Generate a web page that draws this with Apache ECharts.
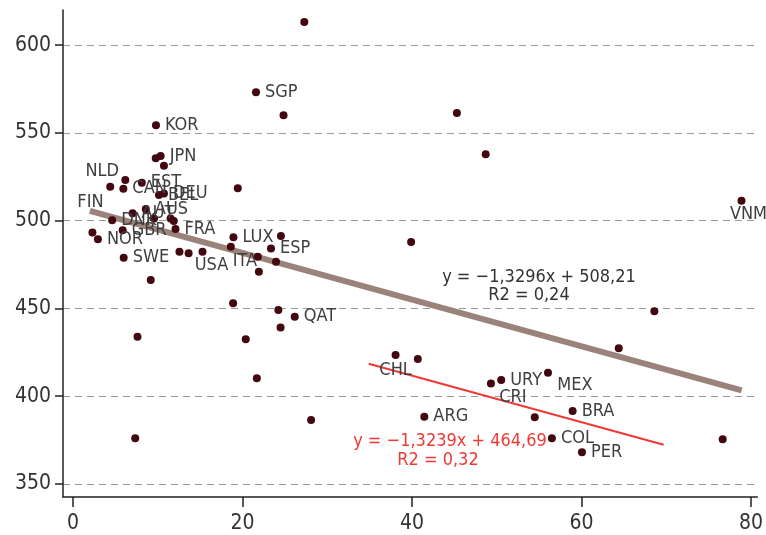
<!DOCTYPE html>
<html>
<head>
<meta charset="utf-8">
<script src="https://cdn.jsdelivr.net/npm/echarts@6/dist/echarts.min.js"></script>
<style>
html,body{margin:0;padding:0;background:#fff;}
#c{width:766px;height:535px;}
</style>
</head>
<body>
<div id="c"></div>
<script>
// ---- data ----
const names = ["", "SGP", "", "", "", "KOR", "", "JPN", "", "NLD",
  "", "CAN", "EST", "BEL", "DEU", "", "DNK", "FIN", "NOR", "GBR",
  "AUT", "AUS", "", "", "FRA", "SWE", "", "", "USA", "LUX",
  "ITA", "", "ESP", "", "", "", "", "", "", "",
  "", "", "", "", "QAT", "", "", "CHL", "", "CRI",
  "URY", "MEX", "ARG", "", "BRA", "COL", "PER", "", "", "",
  "VNM", ""];
const xVals = [27.3, 21.6, 24.85, 45.3, 48.7, 9.8, 9.77, 10.35, 10.74, 4.4,
  6.18, 5.95, 8.13, 10.15, 10.74, 19.45, 4.63, 2.3, 2.95, 5.87,
  7.04, 8.6, 9.57, 11.52, 12.1, 5.99, 12.57, 13.65, 15.29, 18.94,
  18.63, 24.54, 23.37, 21.82, 23.96, 21.94, 9.18, 7.62, 7.35, 18.9,
  20.39, 21.7, 24.24, 24.5, 26.17, 28.1, 39.9, 38.07, 40.69, 49.32,
  50.53, 56.05, 41.46, 54.49, 58.96, 56.51, 60.06, 76.66, 64.4, 68.6,
  78.88, 11.9];
const yVals = [613.1, 573.2, 560.1, 561.3, 537.9, 554.4, 535.5, 536.8, 531.3, 519.3,
  523.1, 518.2, 521.6, 514.6, 515.5, 518.4, 500.3, 493.3, 489.4, 494.6,
  504.2, 506.6, 501.3, 501.3, 495.2, 478.9, 482.3, 481.4, 482.3, 490.5,
  485.1, 491.2, 484.2, 479.4, 476.6, 470.9, 466.2, 433.9, 376.0, 452.9,
  432.4, 410.2, 449.1, 439.2, 445.3, 386.4, 487.8, 423.5, 421.2, 407.3,
  409.2, 413.4, 388.3, 388.0, 391.6, 376.0, 368.1, 375.5, 427.4, 448.4,
  511.3, 499.8];

const trendAllX = [2.0, 78.9];
const trendAllY = [505.55, 403.3];
const trendLatX = [34.9, 69.7];
const trendLatY = [418.5, 372.4];

const xTicks = [0, 20, 40, 60, 80];
const yTicks = [350, 400, 450, 500, 550, 600];

const eqAll = ["y = \u22121,3296x + 508,21", "R2 = 0,24"];
const eqLat = ["y = \u22121,3239x + 464,69", "R2 = 0,32"];

// ---- styling ----
const FONT = "'DejaVu Sans Condensed', 'Liberation Sans Narrow', sans-serif";
const labelPlace = {
  NLD: {position: 'top', offset: [-8, 3]},
  FIN: {position: 'top', offset: [-2, -12]},
  USA: {position: 'bottom', offset: [9, -4]},
  ITA: {position: 'bottom', offset: [14, -4]},
  CHL: {position: 'bottom', offset: [0, -3]},
  CRI: {position: 'bottom', offset: [22, -4]},
  MEX: {position: 'bottom', offset: [27, -5]},
  VNM: {position: 'bottom', offset: [7, -5]}
};

const pts = xVals.map((x, i) => {
  const n = names[i];
  const o = {value: [x, yVals[i]], name: n};
  if (n) {
    const p = labelPlace[n] || {position: 'right'};
    o.label = Object.assign({show: true, formatter: n, distance: 5}, p);
  }
  return o;
});

const chart = echarts.init(document.getElementById('c'), null, {renderer: 'canvas'});
chart.setOption({
  animation: false,
  grid: {left: 63, right: 1, top: 10, bottom: 38},
  xAxis: {
    type: 'value', min: -1.17, max: 80.75,
    axisLine: {show: true, onZero: false, lineStyle: {color: '#222', width: 1.5}},
    axisTick: {show: true, length: 10, customValues: xTicks, lineStyle: {color: '#222', width: 1.5}},
    axisLabel: {customValues: xTicks, margin: 16, fontSize: 21, color: '#333', fontFamily: FONT},
    splitLine: {show: false}
  },
  yAxis: {
    type: 'value', min: 342.6, max: 620,
    axisLine: {show: true, onZero: false, lineStyle: {color: '#222', width: 1.5}},
    axisTick: {show: true, length: 8, customValues: yTicks, lineStyle: {color: '#222', width: 1.5}},
    axisLabel: {customValues: yTicks, margin: 12, fontSize: 21, color: '#333', fontFamily: FONT},
    splitLine: {show: true, lineStyle: {color: '#999', width: 1, type: [7, 5]}}
  },
  series: [
    {
      type: 'line', data: trendAllX.map((x, i) => [x, trendAllY[i]]),
      symbol: 'none', lineStyle: {color: '#9a837b', width: 6}, z: 1, silent: true
    },
    {
      type: 'line', data: trendLatX.map((x, i) => [x, trendLatY[i]]),
      symbol: 'none', lineStyle: {color: '#ee3a35', width: 2}, z: 1, silent: true
    },
    {
      type: 'scatter', data: pts, symbolSize: 8, z: 3,
      itemStyle: {color: '#43080f', opacity: 1},
      label: {show: false, fontSize: 18, color: '#3e3e3e', fontFamily: FONT}
    }
  ],
  graphic: [
    {type: 'text', x: 539, y: 277, style: {text: eqAll[0], fontSize: 18, fontFamily: FONT, fill: '#333', align: 'center', verticalAlign: 'middle'}},
    {type: 'text', x: 529, y: 295, style: {text: eqAll[1], fontSize: 18, fontFamily: FONT, fill: '#333', align: 'center', verticalAlign: 'middle'}},
    {type: 'text', x: 450, y: 441, style: {text: eqLat[0], fontSize: 18, fontFamily: FONT, fill: '#ee3a35', align: 'center', verticalAlign: 'middle'}},
    {type: 'text', x: 438, y: 460, style: {text: eqLat[1], fontSize: 18, fontFamily: FONT, fill: '#ee3a35', align: 'center', verticalAlign: 'middle'}}
  ]
});
</script>
</body>
</html>
